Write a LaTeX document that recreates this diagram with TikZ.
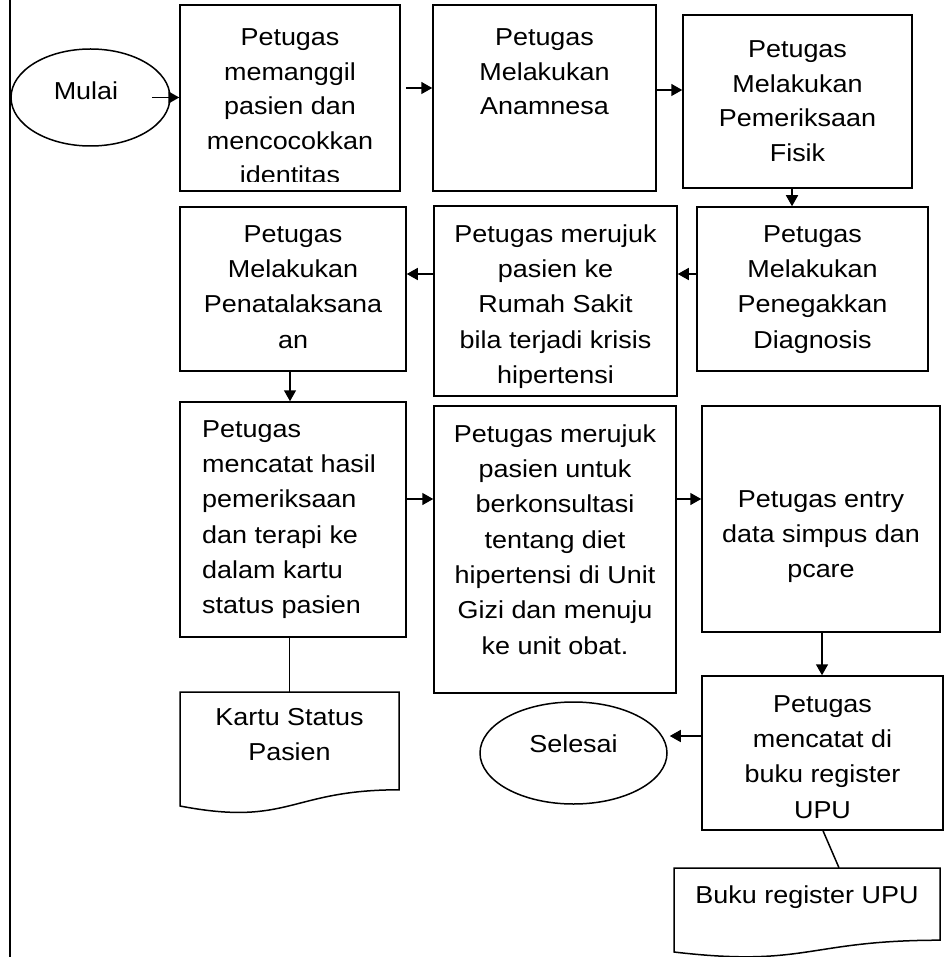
\documentclass[tikz,border=0pt]{standalone}
\usepackage{fontspec}
\setmainfont{Liberation Sans}[FakeStretch=1.1]
\usetikzlibrary{arrows.meta,shapes.geometric,calc}
\begin{document}
\begin{tikzpicture}[x=1pt,y=-1pt,
  box/.style={draw, line width=1.5pt, inner sep=0pt},
  oval/.style={draw, ellipse, line width=1.5pt, inner sep=0pt},
  lbl/.style={inner sep=0pt, align=center, font=\fontsize{24.5}{35.3}\selectfont},
  lblA/.style={inner sep=0pt, align=center, font=\fontsize{24.5}{34.5}\selectfont},
  arr/.style={line width=1.5pt, -{Triangle[length=11pt,width=12pt]}},
  lnk/.style={line width=1.5pt}]
\useasboundingbox (0,0) rectangle (947,957);

% left margin line
\draw[lnk] (10,0) -- (10,957);

% helper coordinates
\coordinate (r1a) at (0,88);
\coordinate (r1b) at (0,90);
\coordinate (r2) at (0,274);
\coordinate (r3) at (0,499);
\coordinate (r4) at (0,736);
\coordinate (c1) at (792,0);
\coordinate (c2) at (290,0);
\coordinate (c3) at (822,0);

% terminals
\node[oval, minimum width=159pt, minimum height=97pt] (mulai) at (90.5,97.5) {};
\node[oval, minimum width=187pt, minimum height=102pt] (selesai) at (573.5,753) {};
\node[lbl, anchor=base] (tm) at (86,100) {Mulai};
\node[lbl, anchor=base] (ts) at (573.5,752) {Selesai};

% process boxes
\node[box, minimum width=220pt, minimum height=186pt] (b1) at (290,98) {};
\node[box, minimum width=223pt, minimum height=186pt] (b2) at (544.5,98) {};
\node[box, minimum width=229pt, minimum height=173pt] (b3) at (797.5,101.5) {};
\node[box, minimum width=231pt, minimum height=164pt] (b4) at (812.5,289) {};
\node[box, minimum width=243pt, minimum height=190pt] (b5) at (555.5,301) {};
\node[box, minimum width=226pt, minimum height=164pt] (b6) at (293,289) {};
\node[box, minimum width=226pt, minimum height=235pt] (b7) at (293,519.5) {};
\node[box, minimum width=242pt, minimum height=287pt] (b8) at (555,549.5) {};
\node[box, minimum width=238pt, minimum height=226pt] (b9) at (821,519) {};
\node[box, minimum width=241pt, minimum height=154pt] (b10) at (822.5,753) {};

% documents
\node[inner sep=0pt, minimum width=219pt, minimum height=122pt] (kartu) at (289.5,753) {};
\draw[lnk] (180,692) -- (399,692) -- (399,789.8)
  .. controls (289.5,789.8) and (289.5,827) .. (180,806) -- cycle;
\node[inner sep=0pt, minimum width=266pt, minimum height=90pt] (buku) at (807,913) {};
\draw[lnk] (674,868) -- (940,868) -- (940,940.2)
  .. controls (807,940.2) and (807,967.6) .. (674,952) -- cycle;

% texts
\begin{scope}
\clip (180,5) rectangle (400,182);
\node[lblA, anchor=north] (t1) at (290,21.2) {\strut Petugas\\memanggil\\pasien dan\\mencocokkan\\identitas};
\end{scope}
\node[lblA, anchor=north] (t2) at (544.5,21.2) {\strut Petugas\\Melakukan\\Anamnesa};
\node[lblA, anchor=north] (t3) at (797.5,33.2) {\strut Petugas\\Melakukan\\Pemeriksaan\\Fisik};
\node[lbl, anchor=north] (t4) at (812.5,217.29) {\strut Petugas\\Melakukan\\Penegakkan\\Diagnosis};
\node[lbl, anchor=north] (t5) at (555.5,217.29) {\strut Petugas merujuk\\pasien ke\\Rumah Sakit\\bila terjadi krisis\\hipertensi};
\node[lbl, anchor=north] (t6) at (293,217.29) {\strut Petugas\\Melakukan\\Penatalaksana\\an};
\node[lbl, align=left, anchor=north west] (t7) at (202,412.29) {\strut Petugas\\mencatat hasil\\pemeriksaan\\dan terapi ke\\dalam kartu\\status pasien};
\node[lbl, anchor=north] (t8) at (555,417.29) {\strut Petugas merujuk\\pasien untuk\\berkonsultasi\\tentang diet\\hipertensi di Unit\\Gizi dan menuju\\ke unit obat.};
\node[lbl, anchor=north] (t9) at (821,482.29) {\strut Petugas entry\\data simpus dan\\pcare};
\node[lbl, anchor=north] (t10) at (822.5,687.29) {\strut Petugas\\mencatat di\\buku register\\UPU};
\node[lbl, anchor=north] (tk) at (289.5,700.29) {\strut Kartu Status\\Pasien};
\node[lbl, anchor=base] (tb) at (807,903) {Buku register UPU};

% connectors
\draw[arr] ($(mulai.east)+(-19,0)$) -- (b1.west |- mulai.east);
\draw[arr] ($(b1.east |- r1a)+(5,0)$) -- (b2.west |- r1a);
\draw[arr] (b2.east |- r1b) -- (b3.west |- r1b);
\draw[arr] (b3.south -| c1) -- (b4.north -| c1);
\draw[arr] (b4.west |- r2) -- (b5.east |- r2);
\draw[arr] (b5.west |- r2) -- (b6.east |- r2);
\draw[arr] (b6.south -| c2) -- (b7.north -| c2);
\draw[arr] (b7.east |- r3) -- (b8.west |- r3);
\draw[arr] (b8.east |- r3) -- (b9.west |- r3);
\draw[arr] (b9.south -| c3) -- (b10.north -| c3);
\draw[arr] (b10.west |- r4) -- ($(selesai.east |- r4)+(2,0)$);
\draw[lnk] (kartu.north |- b7.south) -- (kartu.north);
\draw[lnk] ($(b10.south)+(0.5,0)$) -- ($(buku.north)+(32,0)$);
\end{tikzpicture}
\end{document}
